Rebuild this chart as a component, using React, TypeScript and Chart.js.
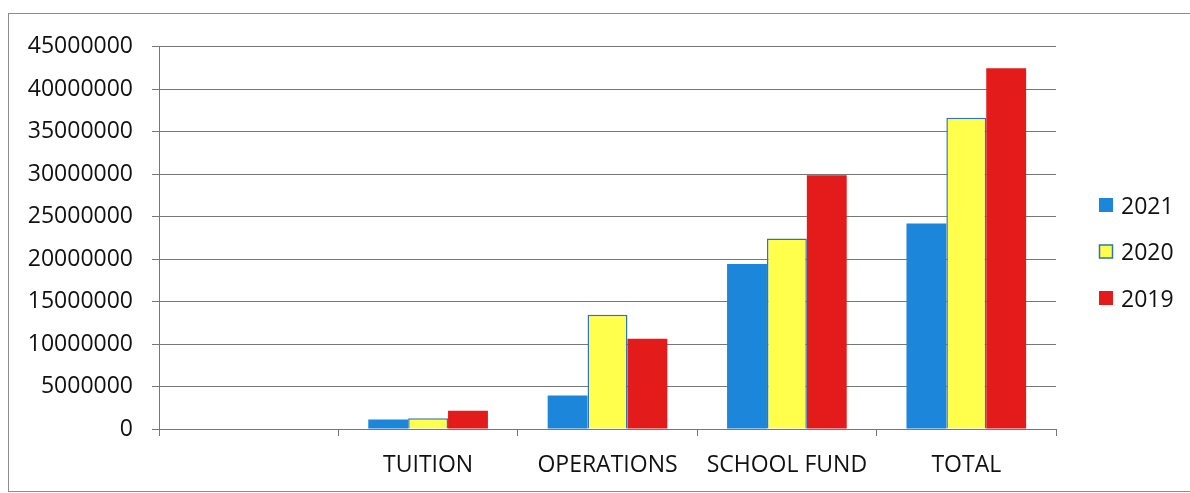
import React, { useEffect, useRef } from "react";
import { Chart, registerables } from "chart.js";

Chart.register(...registerables);

const categories: string[] = ["", "TUITION", "OPERATIONS", "SCHOOL FUND", "TOTAL"];
const seriesLabels: string[] = ["2021", "2020", "2019"];
const values2021: (number | null)[] = [null, 1130000, 3940000, 19440000, 24190000];
const values2020: (number | null)[] = [null, 1280000, 13440000, 22440000, 36660000];
const values2019: (number | null)[] = [null, 2140000, 10640000, 29880000, 42470000];
const yTicks: number[] = [0, 5000000, 10000000, 15000000, 20000000, 25000000, 30000000, 35000000, 40000000, 45000000];

const FONT = "'Open Sans', 'DejaVu Sans', sans-serif";
const fills = ["#1C86DA", "#FFFF4C", "#E41B1B"];
const borders = ["#1C86DA", "#2F73BC", "#E41B1B"];
const GRID = "#777777";
const TEXT = "#111111";

const sideLegend = {
  id: "sideLegend",
  afterDraw(chart: any) {
    const ctx = chart.ctx as CanvasRenderingContext2D;
    const x0 = chart.chartArea.right + 43;
    const step = 46.5;
    const n = chart.data.datasets.length;
    const cy = chart.height / 2;
    ctx.save();
    ctx.font = `23px ${FONT}`;
    ctx.textBaseline = "middle";
    ctx.textAlign = "left";
    chart.data.datasets.forEach((ds: any, i: number) => {
      const y = cy + (i - (n - 1) / 2) * step;
      ctx.fillStyle = ds.backgroundColor;
      ctx.fillRect(x0, y - 8, 14, 14);
      if (ds.borderColor && ds.borderColor !== ds.backgroundColor) {
        ctx.strokeStyle = ds.borderColor;
        ctx.lineWidth = 1.5;
        ctx.strokeRect(x0 + 0.5, y - 7.5, 13, 13);
      }
      ctx.fillStyle = TEXT;
      ctx.fillText(ds.label, x0 + 22, y + 1);
    });
    ctx.restore();
  },
};

export default function App() {
  const ref = useRef<HTMLCanvasElement | null>(null);

  useEffect(() => {
    if (!ref.current) return;
    const dataSeries = [values2021, values2020, values2019];
    const chart = new Chart(ref.current, {
      type: "bar",
      data: {
        labels: categories,
        datasets: seriesLabels.map((label, i) => ({
          label,
          data: dataSeries[i],
          backgroundColor: fills[i],
          borderColor: borders[i],
          borderWidth: i === 1 ? 1.5 : 0,
          categoryPercentage: 0.667,
          barPercentage: 1,
        })),
      },
      options: {
        responsive: false,
        animation: false,
        layout: { padding: { top: 30, right: 134, bottom: 0, left: 0 } },
        plugins: {
          legend: { display: false },
          tooltip: { enabled: false },
          title: { display: false },
        },
        scales: {
          x: {
            grid: {
              drawOnChartArea: false,
              drawTicks: true,
              tickLength: 7,
              color: GRID,
              offset: true,
            },
            border: { color: GRID },
            ticks: {
              color: TEXT,
              font: { family: FONT, size: 23 },
              padding: 16,
              maxRotation: 0,
              autoSkip: false,
            },
            afterFit: (s: any) => {
              s.height = 62;
            },
          },
          y: {
            min: 0,
            max: 45000000,
            grid: { color: GRID, tickLength: 7, lineWidth: 1 },
            border: { color: GRID },
            afterBuildTicks: (s: any) => {
              s.ticks = yTicks.map((v) => ({ value: v }));
            },
            ticks: {
              color: TEXT,
              font: { family: FONT, size: 23 },
              padding: 19,
              callback: (v: any) => String(v),
            },
            afterFit: (s: any) => {
              s.width = 150;
            },
          },
        },
      },
      plugins: [sideLegend],
    });
    return () => chart.destroy();
  }, []);

  return (
    <div
      style={{
        position: "absolute",
        left: 8,
        top: 13,
        width: 1182,
        height: 479,
        boxSizing: "border-box",
        borderLeft: "1px solid #8c8c8c",
        borderTop: "1px solid #8c8c8c",
        borderBottom: "1px solid #8c8c8c",
        background: "#fff",
        overflow: "hidden",
      }}
    >
      <canvas ref={ref} width={1181} height={477} style={{ display: "block" }} />
    </div>
  );
}
